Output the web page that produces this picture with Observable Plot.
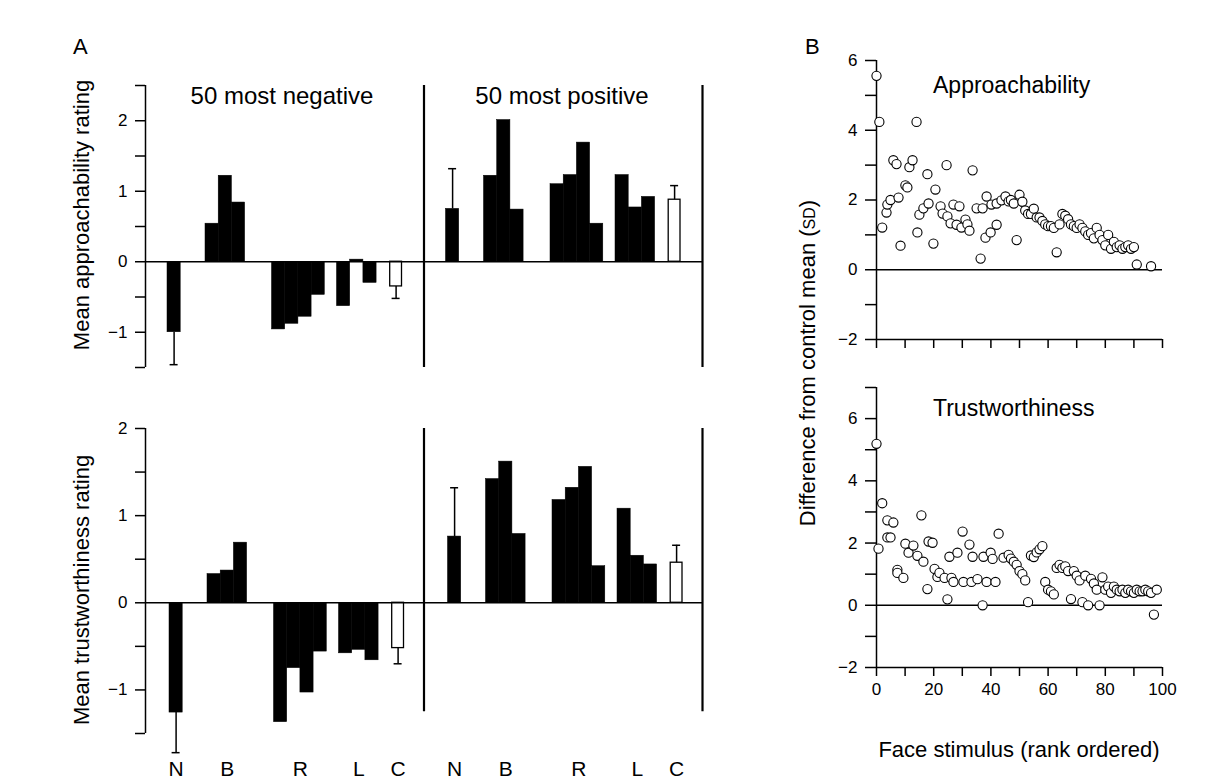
<!DOCTYPE html>
<html><head><meta charset="utf-8">
<script src="https://cdn.jsdelivr.net/npm/d3@7"></script>
<script src="https://cdn.jsdelivr.net/npm/@observablehq/plot@0.6"></script>
<style>
body{margin:0;background:#fff;}
#fig{position:relative;width:1211px;height:783px;background:#fff;font-family:"Liberation Sans",Arial,Helvetica,sans-serif;color:#000;overflow:hidden}
.lbl{position:absolute;white-space:nowrap;line-height:1;}
.ctr{transform:translate(-50%,-50%);}
.rot{transform:translate(-50%,-50%) rotate(-90deg);}
</style></head><body><div id="fig"></div>
<script>
// ---------------- DATA ----------------
const categories = ["N", "B", "R", "L", "C"];
const bars = ["N", "B1", "B2", "B3", "R1", "R2", "R3", "R4", "L1", "L2", "L3", "C"];
// Panel A, approachability (50 most negative / 50 most positive)
const approachNeg = [-1.00, 0.54, 1.22, 0.84, -0.96, -0.88, -0.78, -0.47, -0.63, 0.03, -0.30, -0.35];
const approachPos = [0.75, 1.22, 2.01, 0.74, 1.10, 1.23, 1.69, 0.54, 1.23, 0.77, 0.92, 0.88];
const approachNegErr = [-1.46, -0.52]; // error bar ends for N, C
const approachPosErr = [1.32, 1.08];
// Panel A, trustworthiness
const trustNeg = [-1.26, 0.33, 0.37, 0.69, -1.37, -0.75, -1.03, -0.56, -0.58, -0.54, -0.66, -0.52];
const trustPos = [0.76, 1.42, 1.62, 0.79, 1.18, 1.32, 1.56, 0.42, 1.08, 0.54, 0.44, 0.46];
const trustNegErr = [-1.72, -0.70];
const trustPosErr = [1.32, 0.66];
const approachTicks = [-1.5, -1, -0.5, 0, 0.5, 1, 1.5, 2, 2.5];
const trustTicks = [-1.5, -1, -0.5, 0, 0.5, 1, 1.5, 2];

// Panel B scatter: rank, difference from control mean (SD)
const apRank = [0, 1, 2, 3.5, 3.8, 4.9, 5.9, 7, 7.7, 8.4, 10.1, 10.8, 11.5, 12.6, 14, 14.3, 15, 16.4, 17.8, 18.2, 19.9, 20.6, 22.4, 23.1, 24.5, 24.8, 25.9, 26.9, 28, 29, 29.7, 31.1, 31.8, 32.5, 33.6, 35, 36.4, 37.1, 38.1, 38.5, 39.9, 40.2, 42, 42, 43.7, 45.1, 46.2,
  47, 48, 49, 50, 51, 52, 53, 54, 55, 56, 57, 58, 59, 60, 61, 62, 63, 64, 65, 66, 67, 68, 69, 70, 71, 72, 73, 74, 75, 76, 77, 78, 79, 80, 81, 82, 83, 84, 85, 86, 87, 88, 89, 90, 91, 96, 98];
const apDiff = [5.56, 4.24, 1.21, 1.64, 1.87, 2.0, 3.14, 3.03, 2.07, 0.69, 2.42, 2.36, 2.94, 3.14, 4.24, 1.07, 1.58, 1.76, 2.74, 1.90, 0.75, 2.30, 1.82, 1.61, 3.0, 1.53, 1.33, 1.87, 1.29, 1.82, 1.21, 1.44, 1.30, 1.12, 2.85, 1.76, 0.32, 1.76, 0.92, 2.10, 1.07, 1.87, 1.29, 1.90, 1.99, 2.10, 1.96,
  2.0, 1.9, 0.85, 2.15, 1.95, 1.7, 1.6, 1.6, 1.75, 1.5, 1.5, 1.4, 1.3, 1.25, 1.25, 1.2, 0.5, 1.3, 1.6, 1.55, 1.45, 1.3, 1.25, 1.2, 1.3, 1.2, 1.1, 1.0, 1.05, 0.9, 1.2, 1.0, 0.85, 0.7, 1.0, 0.6, 0.8, 0.65, 0.7, 0.6, 0.65, 0.7, 0.6, 0.65, 0.15, 0.1];
const trRank = [0, 2, 0.7, 3.8, 5.9, 3.8, 4.9, 7.3, 7.3, 9.4, 10.1, 11.2, 12.9, 14.3, 15.7, 16.4, 17.8, 18.2, 19.6, 20.3, 21.3, 22, 23.8, 24.8, 25.5, 26.2, 26.9, 28.3, 30.1, 30.4, 32.5, 33.2, 33.6, 35.3, 37.1, 37.4, 38.5, 39.9, 40.6, 41.6, 42.7, 44.4, 46.2,
  47, 48, 49, 50, 51, 52, 53, 54, 55, 56, 57, 58, 59, 60, 61, 62, 63, 64, 65, 66, 67, 68, 69, 70, 71, 72, 73, 74, 75, 76, 77, 78, 79, 80, 81, 82, 83, 84, 85, 86, 87, 88, 89, 90, 91, 92, 93, 94, 95, 96, 97, 98];
const trDiff = [5.19, 3.28, 1.82, 2.73, 2.66, 2.18, 2.18, 1.14, 1.04, 0.88, 1.98, 1.69, 1.92, 1.59, 2.89, 1.40, 0.52, 2.05, 2.01, 1.17, 0.91, 1.04, 0.88, 0.19, 1.56, 0.88, 0.75, 1.69, 2.37, 0.75, 1.95, 0.75, 1.56, 0.84, 0.0, 1.56, 0.75, 1.69, 1.49, 0.75, 2.30, 1.53, 1.62,
  1.5, 1.4, 1.3, 1.1, 1.0, 0.8, 0.1, 1.6, 1.55, 1.7, 1.8, 1.9, 0.75, 0.5, 0.45, 0.35, 1.2, 1.3, 1.2, 1.25, 1.1, 0.2, 1.1, 0.95, 0.8, 0.1, 0.95, 0.0, 0.85, 0.7, 0.5, 0.0, 0.9, 0.5, 0.6, 0.4, 0.6, 0.5, 0.45, 0.5, 0.4, 0.5, 0.45, 0.4, 0.5, 0.45, 0.45, 0.5, 0.45, 0.4, -0.3, 0.5, -0.65];
const bTicksTop = [-2, -1, 0, 1, 2, 3, 4, 5, 6];
const bTicksBottom = [-2, -1, 0, 1, 2, 3, 4, 5, 6, 7];
const xTicksB = [0, 10, 20, 30, 40, 50, 60, 70, 80, 90, 100];

// ---------------- LAYOUT ----------------
const FONT = '"Liberation Sans", Arial, Helvetica, sans-serif';
const fig = document.getElementById("fig");
const groupStart = {N: 22, B: 60, R: 126.5, L: 191.5, C: 244};
const barW = 13.2, halfW = 278.5;
const minus = d => (d < 0 ? "\u2212" + (-d) : String(d));

function place(el, left, top) {
  el.style.position = "absolute"; el.style.left = left + "px"; el.style.top = top + "px";
  fig.appendChild(el);
}
function label(text, x, y, size, cls) {
  const d = document.createElement("div");
  d.className = "lbl " + (cls || "");
  d.style.left = x + "px"; d.style.top = y + "px"; d.style.fontSize = size + "px";
  d.innerHTML = text;
  fig.appendChild(d);
  return d;
}

function panelA(o) {
  const rows = [], errs = [];
  [o.neg, o.pos].forEach((vals, half) => {
    const cnt = {};
    bars.forEach((b, k) => {
      const g = b[0];
      const i = (cnt[g] = (cnt[g] ?? -1) + 1);
      const x1 = half * halfW + groupStart[g] + o.shift + i * barW;
      rows.push({x1, x2: x1 + barW, y: vals[k], open: g === "C"});
    });
    const e = half ? o.posErr : o.negErr;
    ["N", "C"].forEach((g, j) => {
      const cx = half * halfW + groupStart[g] + o.shift + barW / 2;
      const v = vals[bars.indexOf(g)];
      errs.push({x: cx, y1: v, y2: e[j]});
    });
  });
  const cats = [];
  if (o.showCats) {
    [0, 1].forEach(half => categories.forEach(g => {
      const n = bars.filter(b => b[0] === g).length;
      cats.push({x: half * halfW + groupStart[g] + o.shift + n * barW / 2, t: g});
    }));
  }
  const W = 720;
  const p = Plot.plot({
    width: W, height: o.height,
    marginLeft: 145, marginRight: W - 702, marginTop: o.mTop, marginBottom: o.mBottom,
    x: {domain: [0, 2 * halfW], axis: null},
    y: {domain: o.yDomain},
    style: {fontFamily: FONT, background: "transparent", overflow: "visible"},
    marks: [
      Plot.axisY({ticks: o.ticks, tickSize: 10, tickPadding: 8, fontSize: 17, label: null,
        tickFormat: d => Number.isInteger(d) ? minus(d) : "", strokeWidth: 1.5}),
      Plot.ruleX([0], {y1: o.yDomain[0], y2: o.yDomain[1], strokeWidth: 1.5}),
      Plot.ruleX([halfW, 2 * halfW], {y1: o.vLine[0], y2: o.vLine[1], strokeWidth: 2.2}),
      Plot.rectY(rows.filter(d => !d.open), {x1: "x1", x2: "x2", y1: 0, y2: "y", fill: "black", stroke: "black", strokeWidth: 0.5}),
      Plot.rectY(rows.filter(d => d.open), {x1: d => d.x1 + 0.7, x2: d => d.x2 - 0.7, y1: 0, y2: "y", fill: "white", stroke: "black", strokeWidth: 1.3}),
      Plot.ruleX(errs, {x: "x", y1: "y1", y2: "y2", strokeWidth: 1.5}),
      Plot.ruleY(errs, {y: "y2", x1: d => d.x - 4, x2: d => d.x + 4, strokeWidth: 1.5}),
      Plot.ruleY([0], {x1: 0, x2: 2 * halfW, strokeWidth: 1.6}),
      Plot.text(cats, {x: "x", y: o.yDomain[0], text: "t", dy: 36, fontSize: 21})
    ]
  });
  place(p, 0, o.top);
}

panelA({top: 0, height: 380, mTop: 85, mBottom: 13, yDomain: [-1.5, 2.5], ticks: approachTicks,
  vLine: [-1.5, 2.5], neg: approachNeg, pos: approachPos, negErr: approachNegErr, posErr: approachPosErr, shift: 0, showCats: false});
panelA({top: 400, height: 383, mTop: 28, mBottom: 50, yDomain: [-1.5, 2], ticks: trustTicks,
  vLine: [-1.25, 2], neg: trustNeg, pos: trustPos, negErr: trustNegErr, posErr: trustPosErr, shift: 2, showCats: true});

function panelB(o) {
  const pts = o.rank.map((r, i) => ({x: r, y: o.diff[i]}));
  const W = 431;
  const p = Plot.plot({
    width: W, height: o.height,
    marginLeft: 96, marginRight: W - 382, marginTop: o.mTop, marginBottom: o.mBottom,
    x: {domain: [0, 100]},
    y: {domain: o.yDomain},
    style: {fontFamily: FONT, background: "transparent", overflow: "visible"},
    marks: [
      Plot.axisY({ticks: o.ticks, tickSize: 11, tickPadding: 8, fontSize: 17, label: null,
        tickFormat: d => d % 2 === 0 ? minus(d) : "", strokeWidth: 1.5}),
      Plot.axisX({ticks: xTicksB, tickSize: 9, tickPadding: 6, fontSize: 17, label: null,
        tickFormat: d => (o.xLabels && d % 20 === 0) ? String(d) : "", strokeWidth: 1.5}),
      Plot.ruleX([0], {y1: o.yDomain[0], y2: o.yDomain[1], strokeWidth: 1.5}),
      Plot.ruleY([o.yDomain[0]], {x1: 0, x2: 100, strokeWidth: 1.5}),
      Plot.ruleY([0], {x1: 0, x2: 100, strokeWidth: 1.6}),
      Plot.dot(pts, {x: "x", y: "y", r: 4.6, fill: "white", stroke: "black", strokeWidth: 1.1})
    ]
  });
  place(p, 780, o.top);
}
panelB({top: 0, height: 360, mTop: 60, mBottom: 21, yDomain: [-2, 6], ticks: bTicksTop, rank: apRank, diff: apDiff, xLabels: false});
panelB({top: 360, height: 423, mTop: 27, mBottom: 116, yDomain: [-2, 7], ticks: bTicksBottom, rank: trRank, diff: trDiff, xLabels: true});

// ---------------- TEXT ----------------
label("A", 73, 36, 22);
label("B", 805, 36, 22);
label("50 most negative", 282, 96, 24, "ctr");
label("50 most positive", 562, 96, 24, "ctr");
label("Mean approachability rating", 82, 215, 22, "rot");
label("Mean trustworthiness rating", 82, 590, 22, "rot");
label('Difference from control mean (<span style="font-size:16px">SD</span>)', 808, 363, 22, "rot");
label("Approachability", 933, 74, 23);
label("Trustworthiness", 933, 397, 23);
label("Face stimulus (rank ordered)", 1019, 750, 22, "ctr");
</script></body></html>
